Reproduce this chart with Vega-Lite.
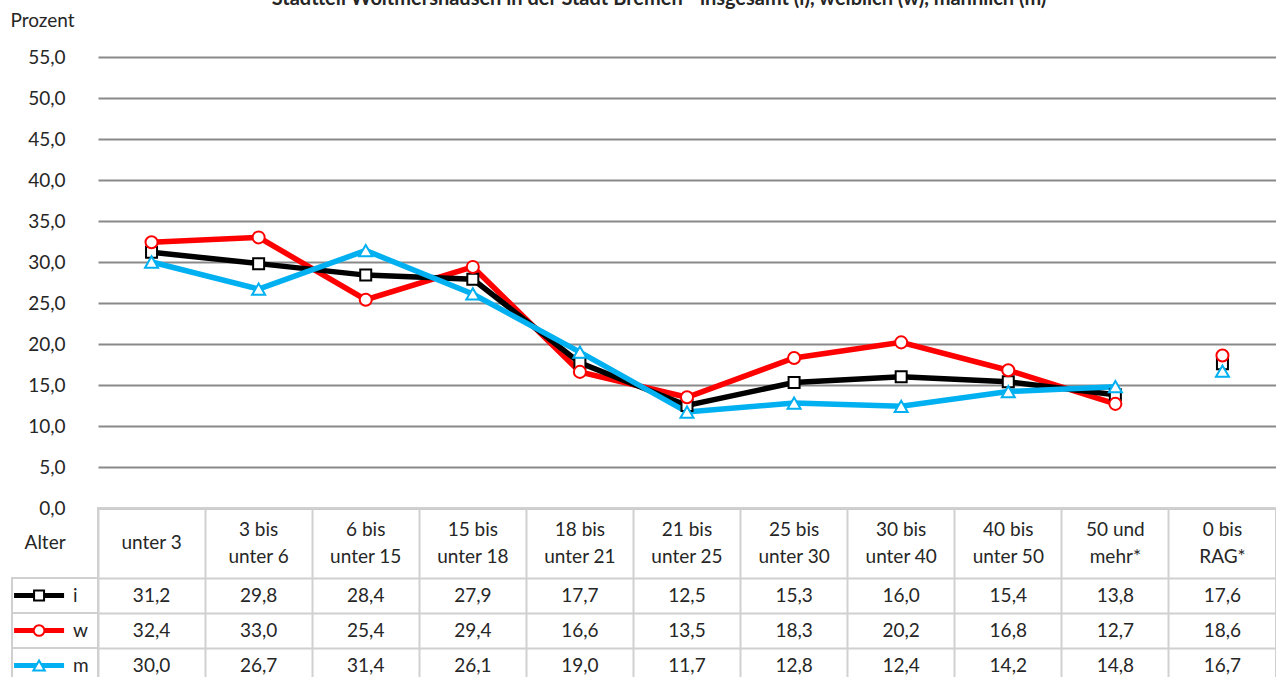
{
  "$schema": "https://vega.github.io/schema/vega-lite/v6.json",
  "padding": {"left": 10, "top": 0, "right": 0, "bottom": 0},
  "background": "white",
  "datasets": {
    "werte": [
      {"Alter": "unter 3", "Gruppe": "i", "Wert": 31.2},
      {"Alter": "3 bis unter 6", "Gruppe": "i", "Wert": 29.8},
      {"Alter": "6 bis unter 15", "Gruppe": "i", "Wert": 28.4},
      {"Alter": "15 bis unter 18", "Gruppe": "i", "Wert": 27.9},
      {"Alter": "18 bis unter 21", "Gruppe": "i", "Wert": 17.7},
      {"Alter": "21 bis unter 25", "Gruppe": "i", "Wert": 12.5},
      {"Alter": "25 bis unter 30", "Gruppe": "i", "Wert": 15.3},
      {"Alter": "30 bis unter 40", "Gruppe": "i", "Wert": 16.0},
      {"Alter": "40 bis unter 50", "Gruppe": "i", "Wert": 15.4},
      {"Alter": "50 und mehr*", "Gruppe": "i", "Wert": 13.8},
      {"Alter": "0 bis RAG*", "Gruppe": "i", "Wert": 17.6},
      {"Alter": "unter 3", "Gruppe": "w", "Wert": 32.4},
      {"Alter": "3 bis unter 6", "Gruppe": "w", "Wert": 33.0},
      {"Alter": "6 bis unter 15", "Gruppe": "w", "Wert": 25.4},
      {"Alter": "15 bis unter 18", "Gruppe": "w", "Wert": 29.4},
      {"Alter": "18 bis unter 21", "Gruppe": "w", "Wert": 16.6},
      {"Alter": "21 bis unter 25", "Gruppe": "w", "Wert": 13.5},
      {"Alter": "25 bis unter 30", "Gruppe": "w", "Wert": 18.3},
      {"Alter": "30 bis unter 40", "Gruppe": "w", "Wert": 20.2},
      {"Alter": "40 bis unter 50", "Gruppe": "w", "Wert": 16.8},
      {"Alter": "50 und mehr*", "Gruppe": "w", "Wert": 12.7},
      {"Alter": "0 bis RAG*", "Gruppe": "w", "Wert": 18.6},
      {"Alter": "unter 3", "Gruppe": "m", "Wert": 30.0},
      {"Alter": "3 bis unter 6", "Gruppe": "m", "Wert": 26.7},
      {"Alter": "6 bis unter 15", "Gruppe": "m", "Wert": 31.4},
      {"Alter": "15 bis unter 18", "Gruppe": "m", "Wert": 26.1},
      {"Alter": "18 bis unter 21", "Gruppe": "m", "Wert": 19.0},
      {"Alter": "21 bis unter 25", "Gruppe": "m", "Wert": 11.7},
      {"Alter": "25 bis unter 30", "Gruppe": "m", "Wert": 12.8},
      {"Alter": "30 bis unter 40", "Gruppe": "m", "Wert": 12.4},
      {"Alter": "40 bis unter 50", "Gruppe": "m", "Wert": 14.2},
      {"Alter": "50 und mehr*", "Gruppe": "m", "Wert": 14.8},
      {"Alter": "0 bis RAG*", "Gruppe": "m", "Wert": 16.7}
    ],
    "kopf": [
      {"Alter": "unter 3", "Label": "unter 3"},
      {"Alter": "3 bis unter 6", "Label": "3 bis\nunter 6"},
      {"Alter": "6 bis unter 15", "Label": "6 bis\nunter 15"},
      {"Alter": "15 bis unter 18", "Label": "15 bis\nunter 18"},
      {"Alter": "18 bis unter 21", "Label": "18 bis\nunter 21"},
      {"Alter": "21 bis unter 25", "Label": "21 bis\nunter 25"},
      {"Alter": "25 bis unter 30", "Label": "25 bis\nunter 30"},
      {"Alter": "30 bis unter 40", "Label": "30 bis\nunter 40"},
      {"Alter": "40 bis unter 50", "Label": "40 bis\nunter 50"},
      {"Alter": "50 und mehr*", "Label": "50 und\nmehr*"},
      {"Alter": "0 bis RAG*", "Label": "0 bis\nRAG*"}
    ],
    "gruppen": [
      {"Gruppe": "i"},
      {"Gruppe": "w"},
      {"Gruppe": "m"}
    ]
  },
  "columns": 2,
  "spacing": 0,
  "bounds": "flush",
  "resolve": {"scale": {"x": "independent", "y": "independent", "stroke": "independent", "shape": "independent", "size": "independent", "color": "independent"}},
  "concat": [
    {"width": 86, "height": 57, "data": {"values": []}, "mark": "point"},
    {
      "width": 1178, "height": 57,
      "data": {"values": [{}]},
      "mark": {"type": "text", "text": "Stadtteil Woltmershausen in der Stadt Bremen - insgesamt (i), weiblich (w), männlich (m)", "clip": true, "font": "Lato", "fontWeight": "bold", "fontSize": 20, "baseline": "alphabetic", "align": "center", "dx": -28, "dy": -23.5, "color": "#262626"}
    },
    {"width": 86, "height": 451, "data": {"values": []}, "mark": "point"},
    {
      "width": 1178, "height": 451,
      "data": {"name": "werte"},
      "encoding": {
        "x": {"field": "Alter", "type": "nominal", "sort": null,
          "scale": {"type": "point", "padding": 0.5, "domain": ["unter 3","3 bis unter 6","6 bis unter 15","15 bis unter 18","18 bis unter 21","21 bis unter 25","25 bis unter 30","30 bis unter 40","40 bis unter 50","50 und mehr*","0 bis RAG*"]},
          "axis": null},
        "y": {"field": "Wert", "type": "quantitative",
          "scale": {"domain": [0, 55], "nice": false},
          "axis": {"values": [0,5,10,15,20,25,30,35,40,45,50,55], "format": ".1f", "domain": false, "ticks": false, "labelPadding": 33, "labelFontSize": 19, "labelColor": "#262626", "labelFont": "Lato", "grid": true, "gridColor": "#898989", "gridWidth": 2,
            "title": "Prozent", "titleAngle": 0, "titleX": -88, "titleY": -37, "titleAlign": "left", "titleBaseline": "middle", "titleFontWeight": "normal", "titleFontSize": 19, "titleColor": "#262626", "titleFont": "Lato"}},
        "stroke": {"field": "Gruppe", "type": "nominal", "scale": {"domain": ["i","w","m"], "range": ["#000000","#FF0000","#00B0F0"]}, "legend": null}
      },
      "layer": [
        {"transform": [{"filter": "datum.Gruppe === 'w' && datum.Alter !== '0 bis RAG*'"}], "mark": {"type": "line", "strokeWidth": 5.5}},
        {"transform": [{"filter": "datum.Gruppe === 'i' && datum.Alter !== '0 bis RAG*'"}], "mark": {"type": "line", "strokeWidth": 5.5}},
        {"transform": [{"filter": "datum.Gruppe === 'm' && datum.Alter !== '0 bis RAG*'"}], "mark": {"type": "line", "strokeWidth": 5.5}},
        {"mark": {"type": "point", "filled": true, "fill": "white", "opacity": 1, "strokeWidth": 2},
         "encoding": {
           "shape": {"field": "Gruppe", "type": "nominal", "scale": {"domain": ["i","w","m"], "range": ["square","circle","triangle-up"]}, "legend": null},
           "size": {"field": "Gruppe", "type": "nominal", "scale": {"domain": ["i","w","m"], "range": [121,169,150]}, "legend": null}
         }}
      ]
    },
    {
      "width": 86, "height": 175,
      "layer": [
        {
          "data": {"name": "gruppen"},
          "mark": {"type": "rect", "fill": "transparent", "stroke": "#D0D0D0", "strokeWidth": 2},
          "encoding": {
            "y": {"field": "Gruppe", "type": "nominal", "scale": {"type": "band", "domain": ["h","h2","i","w","m"], "paddingInner": 0, "paddingOuter": 0}, "axis": null}
          }
        },
        {
          "data": {"name": "gruppen"},
          "mark": {"type": "tick", "orient": "horizontal", "size": 50, "thickness": 5, "opacity": 1},
          "encoding": {
            "x": {"datum": "sym", "type": "nominal", "scale": {"type": "band", "domain": ["sym","lab"], "paddingInner": 0, "paddingOuter": 0.35}, "axis": null},
            "y": {"field": "Gruppe", "type": "nominal"},
            "color": {"field": "Gruppe", "type": "nominal", "scale": {"domain": ["i","w","m"], "range": ["#000000","#FF0000","#00B0F0"]}, "legend": null}
          }
        },
        {
          "data": {"name": "gruppen"},
          "mark": {"type": "point", "filled": true, "fill": "white", "opacity": 1, "strokeWidth": 2},
          "encoding": {
            "x": {"datum": "sym", "type": "nominal"},
            "y": {"field": "Gruppe", "type": "nominal"},
            "stroke": {"field": "Gruppe", "type": "nominal", "scale": {"domain": ["i","w","m"], "range": ["#000000","#FF0000","#00B0F0"]}, "legend": null},
            "shape": {"field": "Gruppe", "type": "nominal", "scale": {"domain": ["i","w","m"], "range": ["square","circle","triangle-up"]}, "legend": null},
            "size": {"field": "Gruppe", "type": "nominal", "scale": {"domain": ["i","w","m"], "range": [100,130,120]}, "legend": null}
          }
        },
        {
          "data": {"name": "gruppen"},
          "mark": {"type": "text", "align": "left", "dx": 2, "fontSize": 19, "font": "Lato", "color": "#262626"},
          "encoding": {
            "x": {"datum": "lab", "type": "nominal"},
            "y": {"field": "Gruppe", "type": "nominal"},
            "text": {"field": "Gruppe", "type": "nominal"}
          }
        },
        {
          "data": {"values": [{}]},
          "mark": {"type": "text", "text": "Alter", "align": "center", "dx": 6, "fontSize": 19, "font": "Lato", "color": "#262626"},
          "encoding": {
            "x": {"datum": "sym", "type": "nominal"},
            "y": {"datum": "h", "type": "nominal", "bandPosition": 1}
          }
        }
      ]
    },
    {
      "width": 1178, "height": 175,
      "view": {"stroke": "#D0D0D0", "strokeWidth": 2},
      "encoding": {
        "x": {"field": "Alter", "type": "nominal", "sort": null,
          "scale": {"type": "band", "paddingInner": 0, "paddingOuter": 0, "domain": ["unter 3","3 bis unter 6","6 bis unter 15","15 bis unter 18","18 bis unter 21","21 bis unter 25","25 bis unter 30","30 bis unter 40","40 bis unter 50","50 und mehr*","0 bis RAG*"]},
          "axis": {"title": null, "labels": false, "ticks": false, "domain": false, "grid": true, "bandPosition": 0, "gridColor": "#D0D0D0", "gridWidth": 2}}
      },
      "layer": [
        {
          "data": {"name": "werte"},
          "mark": {"type": "text", "fontSize": 19, "font": "Lato", "color": "#262626"},
          "encoding": {
            "y": {"field": "Gruppe", "type": "nominal",
              "scale": {"type": "band", "domain": ["h","h2","i","w","m"], "paddingInner": 0, "paddingOuter": 0},
              "axis": {"title": null, "labels": false, "ticks": false, "domain": false, "grid": true, "bandPosition": 0, "gridColor": "#D0D0D0", "gridWidth": 2,
                "gridOpacity": {"condition": {"test": "datum.value === 'h2'", "value": 0}, "value": 1}}},
            "text": {"field": "Wert", "type": "quantitative", "format": ".1f"}
          }
        },
        {
          "data": {"name": "kopf"},
          "transform": [{"filter": "datum.Alter !== 'unter 3'"}],
          "mark": {"type": "text", "fontSize": 19, "font": "Lato", "color": "#262626", "lineBreak": "\n", "lineHeight": 27, "baseline": "middle", "dy": -13.5},
          "encoding": {
            "y": {"datum": "h", "type": "nominal", "bandPosition": 1},
            "text": {"field": "Label", "type": "nominal"}
          }
        },
        {
          "data": {"name": "kopf"},
          "transform": [{"filter": "datum.Alter === 'unter 3'"}],
          "mark": {"type": "text", "fontSize": 19, "font": "Lato", "color": "#262626", "baseline": "middle"},
          "encoding": {
            "y": {"datum": "h", "type": "nominal", "bandPosition": 1},
            "text": {"field": "Label", "type": "nominal"}
          }
        }
      ]
    }
  ],
  "config": {
    "view": {"stroke": null},
    "font": "Lato",
    "locale": {"number": {"decimal": ",", "thousands": ".", "grouping": [3], "currency": ["", " €"]}}
  }
}
